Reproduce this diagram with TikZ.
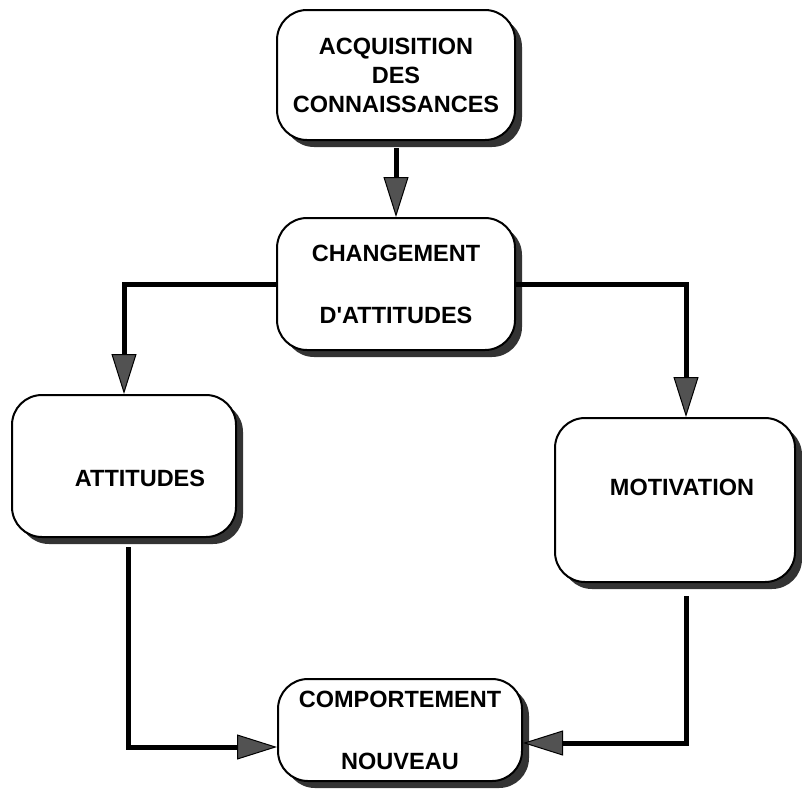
\documentclass[tikz,border=0pt]{standalone}
\usepackage{fontspec}
% plain family, so the apostrophe stays straight
\newfontfamily\boxfont{Liberation Sans}
\usetikzlibrary{arrows.meta,shadows}
\begin{document}
\begin{tikzpicture}[x=1pt,y=-1pt,
  box/.style={draw=black, line width=2pt, fill=white, rounded corners=30pt,
    align=center, font=\boxfont\bfseries\fontsize{23.5}{29}\selectfont,
    general shadow={fill=black!80, shadow xshift=7pt, shadow yshift=-7pt}},
  boxtext/.style={align=center, font=\boxfont\bfseries\fontsize{23.5}{29}\selectfont},
  link/.style={line width=5pt, draw=black,
    -{Triangle[length=40pt,width=25pt,fill=black!68,line width=1pt]}}]
  \useasboundingbox (0,0) rectangle (802,790);
  \node[box, minimum width=238pt, minimum height=130pt] (acq) at (396,75)
    {ACQUISITION\\DES\\CONNAISSANCES};
  \node[box, minimum width=238pt, minimum height=132pt] (chg) at (396,284)
    {CHANGEMENT\\[33pt]D'ATTITUDES};
  \node[box, minimum width=224pt, minimum height=142pt] (att) at (124,466) {};
  \node[boxtext] (attlabel) at (140,478) {ATTITUDES};
  \node[box, minimum width=240pt, minimum height=164pt] (mot) at (675,500) {};
  \node[boxtext] (motlabel) at (682,487) {MOTIVATION};
  \node[box, minimum width=244pt, minimum height=102pt] (cmp) at (400,730)
    {COMPORTEMENT\\[33pt]NOUVEAU};
  \draw[link] ([yshift=-7pt]acq.south) -- (chg.north);
  \draw[link] (chg.west) -| (att.north);
  \draw[link] (chg.east) -| ([xshift=11pt]mot.north);
  \draw[link] ([xshift=4pt,yshift=-9pt]att.south) |- ([yshift=-17pt]cmp.west);
  \draw[link] ([xshift=11pt,yshift=-13pt]mot.south) |- ([yshift=-13pt]cmp.east);
\end{tikzpicture}
\end{document}
